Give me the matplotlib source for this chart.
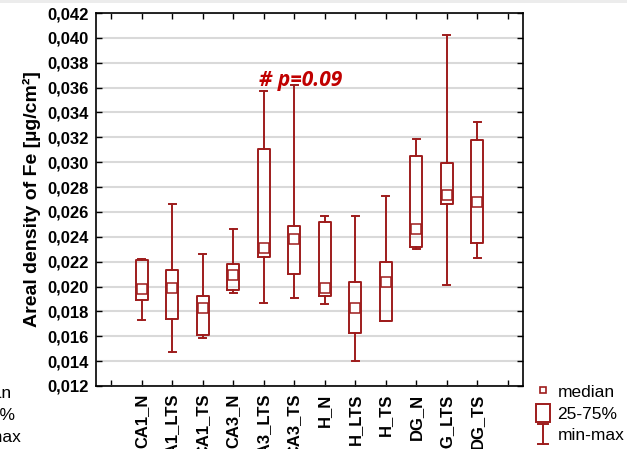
import matplotlib
matplotlib.use('Agg')
import matplotlib.pyplot as plt
from matplotlib.lines import Line2D
from matplotlib.patches import Patch, Rectangle
from matplotlib.legend_handler import HandlerBase
from matplotlib.ticker import FuncFormatter, FixedLocator

# Areal density of Fe per region / group
groups = ['CA1_N', 'CA1_LTS', 'CA1_TS', 'CA3_N', 'CA3_LTS', 'CA3_TS',
          'H_N', 'H_LTS', 'H_TS', 'DG_N', 'DG_LTS', 'DG_TS']
minimum = [0.0173, 0.0147, 0.0159, 0.0195, 0.0187, 0.0191,
           0.0186, 0.0140, 0.0172, 0.0230, 0.0201, 0.0223]
q25 = [0.0189, 0.0174, 0.0161, 0.0197, 0.0224, 0.0210,
       0.0192, 0.0163, 0.0172, 0.0232, 0.0266, 0.0235]
median = [0.0198, 0.0199, 0.0183, 0.0209, 0.0231, 0.0238,
          0.0199, 0.0183, 0.0204, 0.0246, 0.0274, 0.0268]
q75 = [0.0221, 0.0213, 0.0192, 0.0218, 0.0311, 0.0249,
       0.0252, 0.0204, 0.0220, 0.0305, 0.0299, 0.0318]
maximum = [0.0222, 0.0266, 0.0226, 0.0246, 0.0357, 0.0362,
           0.0257, 0.0257, 0.0273, 0.0319, 0.0402, 0.0332]
y_ticks = [0.012 + 0.002 * i for i in range(16)]
annotation = '# p=0.09'

RED = '#9e1c1c'
TXT_RED = '#c00000'
FONT = 'Liberation Sans'

W, H = 627, 449
fig = plt.figure(figsize=(W / 100, H / 100), dpi=100)
ax = fig.add_axes([96 / W, 1 - 386 / H, (523 - 96) / W, (386 - 13) / H])

stats = []
for i, g in enumerate(groups):
    stats.append(dict(label=g, whislo=minimum[i], q1=q25[i], med=median[i],
                      q3=q75[i], whishi=maximum[i], mean=median[i], fliers=[]))

positions = list(range(1, len(groups) + 1))
ax.bxp(stats, positions=positions, widths=0.4, capwidths=0.24,
       showmeans=True, meanline=False, showfliers=False, manage_ticks=False,
       boxprops=dict(color=RED, linewidth=1.4),
       whiskerprops=dict(color=RED, linewidth=1.4),
       capprops=dict(color=RED, linewidth=1.4),
       medianprops=dict(linewidth=0),
       meanprops=dict(marker='s', markersize=6.5, markerfacecolor='white',
                      markeredgecolor=RED, markeredgewidth=1.1))

ax.set_xlim(-0.5, len(groups) + 1.5)
ax.set_ylim(0.012, 0.042)
ax.xaxis.set_major_locator(FixedLocator(list(range(0, len(groups) + 2))))
ax.set_xticklabels([''] + groups + [''], rotation=90, fontfamily=FONT,
                   fontweight='bold', fontsize=12)
ax.yaxis.set_major_locator(FixedLocator(y_ticks))
ax.yaxis.set_major_formatter(FuncFormatter(lambda v, _: f'{v:.3f}'.replace('.', ',')))
for lab in ax.get_yticklabels():
    lab.set_fontfamily(FONT)
    lab.set_fontweight('bold')
    lab.set_fontsize(12)

ax.tick_params(direction='in', top=True, right=True, length=4, width=1,
               colors='black')
ax.tick_params(axis='x', pad=5.5)
ax.tick_params(axis='y', pad=5)
ax.set_axisbelow(True)
ax.yaxis.grid(True, color='#d9d9d9', linewidth=1.5)
for s in ax.spines.values():
    s.set_linewidth(1.2)
    s.set_color('black')

ax.set_ylabel('Areal density of Fe [µg/cm²]', fontfamily=FONT,
              fontweight='bold', fontsize=14, labelpad=5)

ax.text(4.84, 0.0361, annotation, color=TXT_RED, fontsize=15,
        fontweight='bold', fontstyle='italic', fontfamily='Open Sans',
        va='baseline', ha='left')


# legend entry for the whisker range: a vertical bar with caps
class HandlerIBar(HandlerBase):
    def create_artists(self, legend, orig_handle, xdescent, ydescent,
                       width, height, fontsize, trans):
        cx = width / 2 - xdescent
        y0 = -ydescent - 1
        y1 = height - ydescent + 1
        cw = width * 0.38
        lines = [Line2D([cx, cx], [y0, y1]),
                 Line2D([cx - cw, cx + cw], [y0, y0]),
                 Line2D([cx - cw, cx + cw], [y1, y1])]
        for ln in lines:
            ln.set_color(RED)
            ln.set_linewidth(1.4)
            ln.set_transform(trans)
        return lines


class IBar:
    pass


h_med = Line2D([], [], marker='s', linestyle='none', markersize=4.5,
               markerfacecolor='white', markeredgecolor=RED, markeredgewidth=1.2)
h_box = Patch(facecolor='white', edgecolor=RED, linewidth=1.4)
h_rng = IBar()
labels = ['median', '25-75%', 'min-max']
leg = fig.legend([h_med, h_box, h_rng], labels,
                 handler_map={IBar: HandlerIBar()},
                 loc='upper left', bbox_to_anchor=(536 / W, 1 - 383 / H),
                 frameon=False, handlelength=0.78, handleheight=1.15,
                 handletextpad=0.45, labelspacing=0.22, borderpad=0,
                 borderaxespad=0, prop=dict(family=FONT, size=12.5))

# neighbouring panel's legend text, partly outside the canvas
for j, t in enumerate(labels):
    fig.text(-45 / W, 1 - (393 + j * 22) / H, t, fontfamily=FONT, fontsize=12.5,
             va='center', ha='left')

fig.add_artist(Rectangle((0, 1 - 3 / H), 1, 3 / H, transform=fig.transFigure,
                         facecolor='#ececec', edgecolor='none'))

fig.savefig('out.png', dpi=100)
